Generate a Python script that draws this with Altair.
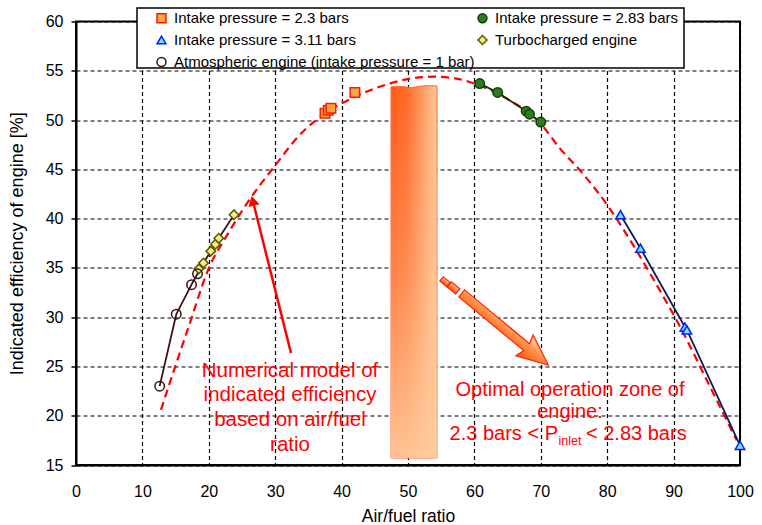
import altair as alt
import pandas as pd

# ---------------- data ----------------
# legend order (column-major grid of the legend: 3 rows in column 1, 2 in column 2)
series_names = [
    "Intake pressure = 2.3 bars",
    "Intake pressure = 3.11 bars",
    "Atmospheric engine (intake pressure = 1 bar)",
    "Intake pressure = 2.83 bars",
    "Turbocharged engine",
]

atm_x = [12.6, 15.1, 17.4, 18.3]
atm_y = [23.0, 30.3, 33.3, 34.4]

turbo_x = [18.5, 19.2, 20.3, 21.0, 21.5, 23.8]
turbo_y = [34.9, 35.5, 36.7, 37.4, 38.0, 40.4]

p23_x = [37.5, 38.0, 38.4, 42.0]
p23_y = [50.7, 51.0, 51.2, 52.8]

p283_x = [60.8, 63.5, 67.8, 68.3, 70.0]
p283_y = [53.7, 52.8, 50.9, 50.6, 49.8]

p311_x = [82.0, 85.0, 91.7, 92.0, 100.0]
p311_y = [40.4, 37.0, 29.0, 28.7, 17.0]

# numerical model (red dashed curve), read point by point
model_x = [12.8, 14.7, 17.0, 19.9, 23.0, 26.1, 30.0, 33.7, 37.8, 41.8, 46.3, 50.3,
           53.8, 57.3, 60.8, 64.8, 69.9, 72.9, 75.9, 80.4, 84.1, 87.6, 91.0, 95.0, 99.5]
model_y = [20.6, 24.5, 29.1, 34.8, 38.6, 41.9, 45.4, 48.5, 50.8, 52.3, 53.5, 54.2,
           54.4, 54.2, 53.5, 52.2, 49.7, 47.1, 44.9, 41.0, 37.1, 33.1, 29.0, 23.6, 17.5]

x_ticks = list(range(0, 101, 10))
y_ticks = list(range(15, 61, 5))

# ---------------- styles ----------------
shape_range = ["square", "triangle-up", "circle", "circle", "diamond"]
fill_range = ["#ffa640", "#80e0ff", "transparent", "#2e7a1e", "#f2ee84"]
stroke_range = ["#ff1a00", "#0022ff", "#3b1010", "#123d08", "#5a5a00"]
line_groups = ["low", "g283", "g311"]
line_colors = ["#3b1212", "#0a3300", "#0a1a5a"]
FONT = "Liberation Sans"

# ---------------- tables ----------------
rows = []
for xs, ys, s, g in [
    (p23_x, p23_y, "Intake pressure = 2.3 bars", "none"),
    (p283_x, p283_y, "Intake pressure = 2.83 bars", "g283"),
    (p311_x, p311_y, "Intake pressure = 3.11 bars", "g311"),
    (turbo_x, turbo_y, "Turbocharged engine", "low"),
    (atm_x, atm_y, "Atmospheric engine (intake pressure = 1 bar)", "low"),
]:
    for xv, yv in zip(xs, ys):
        rows.append({"x": xv, "y": yv, "series": s, "lgroup": g})
points = pd.DataFrame(rows)
model = pd.DataFrame({"x": model_x, "y": model_y})
one = pd.DataFrame({"k": [0]})

x_enc = alt.X(
    "x:Q",
    scale=alt.Scale(domain=[0, 100], nice=False, zero=False),
    title="Air/fuel ratio",
    axis=alt.Axis(values=x_ticks, grid=True, ticks=False, labelPadding=18, titlePadding=8,
                  labelFlush=False, labelFontSize=16, titleFontSize=17.5,
                  titleFontWeight="normal", labelFont=FONT, titleFont=FONT,
                  labelColor="black", titleColor="black", domainColor="black",
                  domainWidth=2, gridColor="black", gridDash=[4, 3], gridWidth=1.2,
                  gridOpacity=1),
)
y_enc = alt.Y(
    "y:Q",
    scale=alt.Scale(domain=[15, 60], nice=False, zero=False),
    title="Indicated efficiency of engine [%]",
    axis=alt.Axis(values=y_ticks, grid=True, tickSize=5, tickColor="black", tickWidth=1.5,
                  labelPadding=8, titlePadding=19, labelFlush=False, labelFontSize=16,
                  titleFontSize=18, titleFontWeight="normal", labelFont=FONT,
                  titleFont=FONT, labelColor="black", titleColor="black",
                  domainColor="black", domainWidth=2, gridColor="black",
                  gridDash=[4, 3], gridWidth=1.2, gridOpacity=1),
)

# ---------------- decorative gradient bar (optimal zone) ----------------
bar_path = ("M -0.1233 -0.99 C -0.07 -1.0 -0.03 -0.982 0.0 -0.988 "
            "C 0.04 -0.996 0.09 -1.0 0.1233 -0.994 L 0.1233 1 L -0.1233 1 Z")
bar_h = alt.Chart(one).mark_point(
    shape=bar_path, filled=True, opacity=1, size=139129, stroke="#ff6a30", strokeWidth=1,
    fill=alt.LinearGradient(gradient="linear", x1=0, x2=1, y1=0, y2=0, stops=[
        alt.GradientStop(color="#ff5a1a", offset=0),
        alt.GradientStop(color="#ff6a28", offset=0.35),
        alt.GradientStop(color="#ffc898", offset=1),
    ]),
).encode(x=alt.value(338), y=alt.value(250))
bar_v = alt.Chart(one).mark_point(
    shape=bar_path, filled=True, opacity=1, size=139129, strokeWidth=0,
    fill=alt.LinearGradient(gradient="linear", x1=0, x2=0, y1=0, y2=1, stops=[
        alt.GradientStop(color="rgba(255,205,160,0)", offset=0),
        alt.GradientStop(color="rgba(255,205,160,0.35)", offset=0.5),
        alt.GradientStop(color="rgba(255,205,160,0.9)", offset=1),
    ]),
).encode(x=alt.value(338), y=alt.value(250))

# ---------------- model curve ----------------
curve = alt.Chart(model).mark_line(
    color="#ff0000", strokeWidth=2.2, strokeDash=[8, 5], interpolate="monotone"
).encode(x=x_enc, y=y_enc)

# ---------------- connecting lines ----------------
lines = alt.Chart(points).transform_filter(
    alt.FieldOneOfPredicate(field="lgroup", oneOf=line_groups)
).mark_line(strokeWidth=1.8).encode(
    x=x_enc, y=y_enc,
    color=alt.Color("lgroup:N", scale=alt.Scale(domain=line_groups, range=line_colors),
                    legend=None),
)

# ---------------- legend box ----------------
legend_box = alt.Chart(one).mark_rect(
    fill="white", stroke="black", strokeWidth=1.5
).encode(x=alt.value(61), x2=alt.value(608), y=alt.value(-13.5), y2=alt.value(46.5))

# ---------------- points ----------------
leg = alt.Legend(orient="none", legendX=78, legendY=-11, columns=2, title=None,
                 labelFontSize=15, labelFont=FONT, labelColor="black", symbolSize=80,
                 rowPadding=6, columnPadding=-6, padding=0, symbolStrokeWidth=1.5,
                 labelOffset=5, labelLimit=400)
pts = alt.Chart(points).mark_point(filled=True, opacity=1, strokeWidth=1.5, size=90).encode(
    x=x_enc, y=y_enc,
    shape=alt.Shape("series:N", scale=alt.Scale(domain=series_names, range=shape_range),
                    legend=leg),
    fill=alt.Fill("series:N", scale=alt.Scale(domain=series_names, range=fill_range),
                  legend=leg),
    stroke=alt.Stroke("series:N", scale=alt.Scale(domain=series_names, range=stroke_range),
                      legend=leg),
)

# ---------------- annotations ----------------
RED = "#ff0000"
txt_model = alt.Chart(one).mark_text(
    text=["Numerical  model of", "indicated  efficiency", "based on air/fuel", "ratio"],
    font=FONT, fontSize=20.5, color=RED, align="center", baseline="top", lineHeight=24.7,
).encode(x=alt.value(214), y=alt.value(339))
arrow_line = alt.Chart(one).mark_rule(color=RED, strokeWidth=2.5).encode(
    x=alt.value(215), y=alt.value(331.5), x2=alt.value(177), y2=alt.value(180))
arrow_head = alt.Chart(one).mark_point(
    shape="triangle-up", filled=True, fill=RED, opacity=1, size=130, angle=345.5
).encode(x=alt.value(176.8), y=alt.value(179.3))

txt_opt = alt.Chart(one).mark_text(
    text=["Optimal operation zone of", "engine:"],
    font=FONT, fontSize=20, color=RED, align="center", baseline="top", lineHeight=22.5,
).encode(x=alt.value(494), y=alt.value(358))
txt_p1 = alt.Chart(one).mark_text(
    text="2.3 bars < P", font=FONT, fontSize=20, color=RED, align="right", baseline="middle"
).encode(x=alt.value(482), y=alt.value(412.5))
txt_p2 = alt.Chart(one).mark_text(
    text="inlet", font=FONT, fontSize=12.5, color=RED, align="left", baseline="middle"
).encode(x=alt.value(482.5), y=alt.value(419))
txt_p3 = alt.Chart(one).mark_text(
    text="< 2.83 bars", font=FONT, fontSize=20, color=RED, align="left", baseline="middle"
).encode(x=alt.value(510), y=alt.value(412.5))

arrow_path = "M -1 -0.08 L 0.5 -0.08 L 0.45 -0.24 L 1 0 L 0.45 0.24 L 0.5 0.08 L -1 0.08 Z"
orange_grad = alt.LinearGradient(gradient="linear", x1=0, x2=0, y1=0, y2=1, stops=[
    alt.GradientStop(color="#ffd0a8", offset=0),
    alt.GradientStop(color="#ff8a40", offset=0.5),
    alt.GradientStop(color="#ff5a10", offset=1),
])
big_arrow = alt.Chart(one).mark_point(
    shape=arrow_path, filled=True, fill=orange_grad, stroke="#ff2000", strokeWidth=1.2,
    opacity=1, size=12634, angle=39.6,
).encode(x=alt.value(429), y=alt.value(307.7))
dash_path = "M -1 -0.6 L 1 -0.6 L 1 0.6 L -1 0.6 Z"
dash1 = alt.Chart(one).mark_point(
    shape=dash_path, filled=True, fill=orange_grad, stroke="#ff2000", strokeWidth=1.2,
    opacity=1, size=81, angle=39.6,
).encode(x=alt.value(369), y=alt.value(260.2))
dash2 = alt.Chart(one).mark_point(
    shape=dash_path, filled=True, fill=orange_grad, stroke="#ff2000", strokeWidth=1.2,
    opacity=1, size=121, angle=39.6,
).encode(x=alt.value(377.5), y=alt.value(266.4))

chart = alt.layer(
    bar_h, bar_v, curve, lines, legend_box, pts,
    txt_model, arrow_line, arrow_head, txt_opt, txt_p1, txt_p2, txt_p3,
    big_arrow, dash1, dash2,
).properties(
    width=664, height=443.5,
    padding={"left": 76, "top": 21.5, "right": 22, "bottom": 60},
    autosize=alt.AutoSizeParams(type="none"),
    background="white",
).configure_view(stroke="black", strokeWidth=2)

chart.save("out.html", embed_options={"renderer": "svg", "actions": False})
